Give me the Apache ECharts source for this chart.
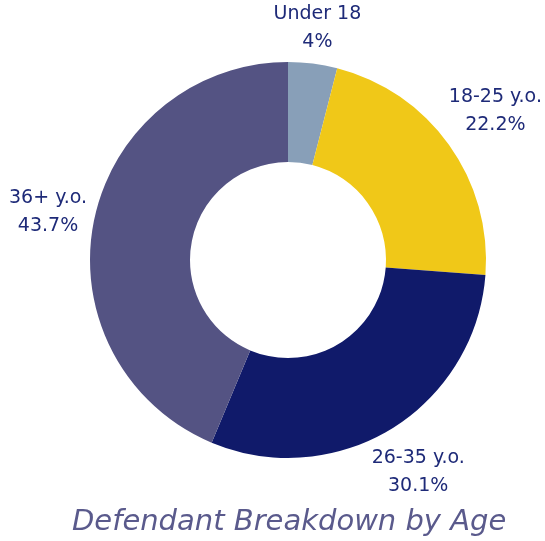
<!DOCTYPE html>
<html>
<head>
<meta charset="utf-8">
<script src="https://cdn.jsdelivr.net/npm/echarts@6/dist/echarts.min.js"></script>
<style>
html,body{margin:0;padding:0;background:#fff;}
#main{width:545px;height:541px;}
</style>
</head>
<body>
<div id="main"></div>
<script>
var ageGroups = ['Under 18', '18-25 y.o.', '26-35 y.o.', '36+ y.o.'];
var agePercents = [4, 22.2, 30.1, 43.7];
var sliceColors = ['#889fb8', '#f0c818', '#101a6a', '#545383'];

var cx = 288, cy = 260, rIn = 98, rOut = 198, gap = 3;

// label centres from the slice mid angle, pushed out so the box clears the ring
var total = agePercents.reduce(function (a, b) { return a + b; }, 0);
function labelPos(params) {
	var before = 0;
	for (var i = 0; i < params.dataIndex; i++) before += agePercents[i];
	var mid = (before + agePercents[params.dataIndex] / 2) / total * Math.PI * 2;
	var s = Math.sin(mid), c = Math.cos(mid);
	var w = params.labelRect.width, h = params.labelRect.height;
	var R = rOut + gap + Math.abs(s) * w / 2 + Math.abs(c) * h / 2;
	return {
		x: cx + R * s,
		y: cy - R * c,
		align: 'center',
		verticalAlign: 'middle'
	};
}

var chartData = [];
for (var i = 0; i < ageGroups.length; i++) {
	chartData.push({name: ageGroups[i], value: agePercents[i], itemStyle: {color: sliceColors[i]}});
}

var myChart = echarts.init(document.getElementById('main'));
myChart.setOption({
	animation: false,
	title: {
		text: 'Defendant Breakdown by Age',
		left: 67,
		top: 503,
		textStyle: {
			fontFamily: 'DejaVu Sans',
			fontStyle: 'italic',
			fontWeight: 'normal',
			fontSize: 29,
			color: '#5a5a8c'
		}
	},
	series: [{
		type: 'pie',
		center: [cx, cy],
		radius: [rIn, rOut],
		startAngle: 90,
		clockwise: true,
		silent: true,
		data: chartData,
		label: {
			show: true,
			position: 'outside',
			overflow: 'none',
			formatter: function (p) { return p.name + '\n' + p.value + '%'; },
			fontFamily: 'DejaVu Sans',
			fontSize: 19,
			lineHeight: 28,
			color: '#1e2a78'
		},
		labelLine: {show: false},
		labelLayout: labelPos
	}]
});
</script>
</body>
</html>
